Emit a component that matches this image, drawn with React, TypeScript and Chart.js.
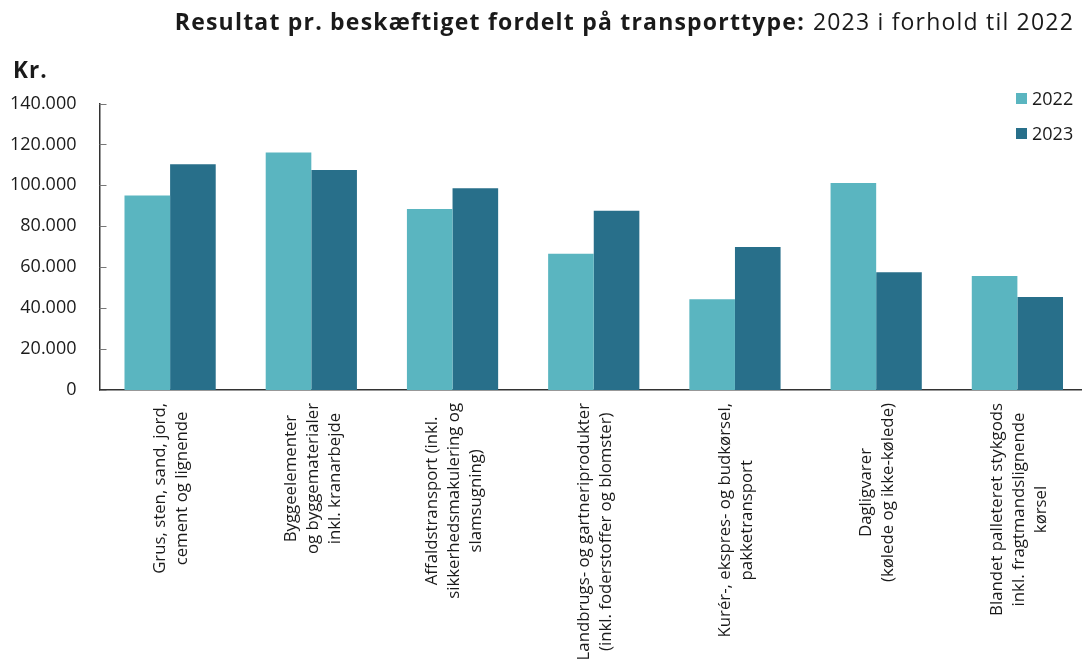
import React, { useEffect, useRef } from "react";
import { Chart, registerables } from "chart.js";

Chart.register(...registerables);

const categories: string[][] = [
  ["Grus, sten, sand, jord,", "cement og lignende"],
  ["Byggeelementer", "og byggematerialer", "inkl. kranarbejde"],
  ["Affaldstransport (inkl.", "sikkerhedsmakulering og", "slamsugning)"],
  ["Landbrugs- og gartneriprodukter", "(inkl. foderstoffer og blomster)"],
  ["Kurér-, ekspres- og budkørsel,", "pakketransport"],
  ["Dagligvarer", "(kølede og ikke-kølede)"],
  ["Blandet palleteret stykgods", "inkl. fragtmandslignende", "kørsel"],
];

const seriesNames = ["2022", "2023"];
const values2022 = [95000, 116000, 88400, 66600, 44300, 101200, 55700];
const values2023 = [110300, 107500, 98600, 87600, 69900, 57500, 45400];
const seriesColors = ["#5AB5C0", "#286F8A"];

const titleBold = "Resultat pr. beskæftiget fordelt på transporttype:";
const titleNormal = "2023 i forhold til 2022";
const yUnit = "Kr.";

const yMin = 0;
const yMax = 140000;
const yStep = 20000;

const FONT = '"Open Sans", "DejaVu Sans", sans-serif';
const TEXT = "#1a1a1a";

function fmt(v: number): string {
  return String(Math.round(v)).replace(/\B(?=(\d{3})+(?!\d))/g, ".");
}

const customDraw = {
  id: "customDraw",
  afterDraw(chart: any) {
    const ctx = chart.ctx as any;
    const xs = chart.scales.x;
    const ys = chart.scales.y;
    const area = chart.chartArea;
    ctx.save();

    // inward y ticks
    ctx.strokeStyle = "#777";
    ctx.lineWidth = 1;
    ys.ticks.forEach((t: any) => {
      const py = Math.round(ys.getPixelForValue(t.value)) + 0.5;
      ctx.beginPath();
      ctx.moveTo(area.left, py);
      ctx.lineTo(area.left + 7, py);
      ctx.stroke();
    });

    // title
    ctx.fillStyle = TEXT;
    ctx.textBaseline = "alphabetic";
    ctx.letterSpacing = "1.2px";
    ctx.font = `23px ${FONT}`;
    const nw = ctx.measureText(titleNormal).width;
    ctx.textAlign = "right";
    const titleRight = 1074;
    ctx.fillText(titleNormal, titleRight, 29.5);
    ctx.font = `bold 23px ${FONT}`;
    ctx.fillText(titleBold, titleRight - nw - 8, 29.5);

    // unit
    ctx.textAlign = "left";
    ctx.letterSpacing = "1px";
    ctx.font = `bold 22.5px ${FONT}`;
    ctx.fillText(yUnit, 13, 78);
    ctx.letterSpacing = "0px";

    // legend
    ctx.font = `18px ${FONT}`;
    ctx.textBaseline = "middle";
    chart.data.datasets.forEach((ds: any, i: number) => {
      const cy = 98.5 + i * 35;
      ctx.fillStyle = ds.backgroundColor;
      ctx.fillRect(1016, cy - 5.5, 11, 11);
      ctx.fillStyle = TEXT;
      ctx.fillText(ds.label, 1032, cy + 1);
    });

    // x labels (rotated, centered lines)
    ctx.font = `16.8px ${FONT}`;
    ctx.fillStyle = TEXT;
    ctx.textAlign = "center";
    ctx.textBaseline = "middle";
    const lh = 22;
    const labels = chart.data.labels as string[][];
    labels.forEach((lines: string[], i: number) => {
      const cx = xs.getPixelForValue(i) + 1.5;
      const maxW = Math.max(...lines.map((l) => ctx.measureText(l).width));
      const cyy = area.bottom + 13 + maxW / 2;
      lines.forEach((line, j) => {
        const off = (j - (lines.length - 1) / 2) * lh;
        ctx.save();
        ctx.translate(cx + off, cyy);
        ctx.rotate(-Math.PI / 2);
        ctx.fillText(line, 0, 0);
        ctx.restore();
      });
    });

    ctx.restore();
  },
};

export default function App() {
  const ref = useRef<HTMLCanvasElement | null>(null);

  useEffect(() => {
    document.body.style.margin = "0";
    const canvas = ref.current!;
    const chart = new Chart(canvas, {
      type: "bar",
      data: {
        labels: categories as any,
        datasets: [
          {
            label: seriesNames[0],
            data: values2022,
            backgroundColor: seriesColors[0],
            borderWidth: 0,
          },
          {
            label: seriesNames[1],
            data: values2023,
            backgroundColor: seriesColors[1],
            borderWidth: 0,
          },
        ],
      },
      options: {
        responsive: false,
        animation: false,
        devicePixelRatio: 1,
        layout: { padding: { top: 103.5, right: 2, bottom: 0, left: 0 } },
        plugins: {
          legend: { display: false },
          title: { display: false },
          tooltip: { enabled: false },
        },
        datasets: {
          bar: { categoryPercentage: 0.646, barPercentage: 1 },
        },
        scales: {
          x: {
            grid: { display: false, drawTicks: false },
            border: { display: true, color: "#333", width: 1.5 },
            ticks: { display: false },
            afterFit: (s: any) => {
              s.height = 269;
            },
          },
          y: {
            min: yMin,
            max: yMax,
            grid: { display: false, drawTicks: false },
            border: { display: true, color: "#333", width: 1.5 },
            ticks: {
              stepSize: yStep,
              padding: 23,
              color: TEXT,
              font: { family: FONT, size: 18 },
              callback: (v: any) => fmt(Number(v)),
            },
            afterFit: (s: any) => {
              s.width = 99.5;
            },
          },
        },
      },
      plugins: [customDraw],
    });
    return () => chart.destroy();
  }, []);

  return (
    <div
      style={{
        position: "fixed",
        left: 0,
        top: 0,
        width: 1082,
        height: 659,
        overflow: "hidden",
        background: "#fff",
      }}
    >
      <canvas ref={ref} width={1090} height={659} style={{ display: "block" }} />
    </div>
  );
}
